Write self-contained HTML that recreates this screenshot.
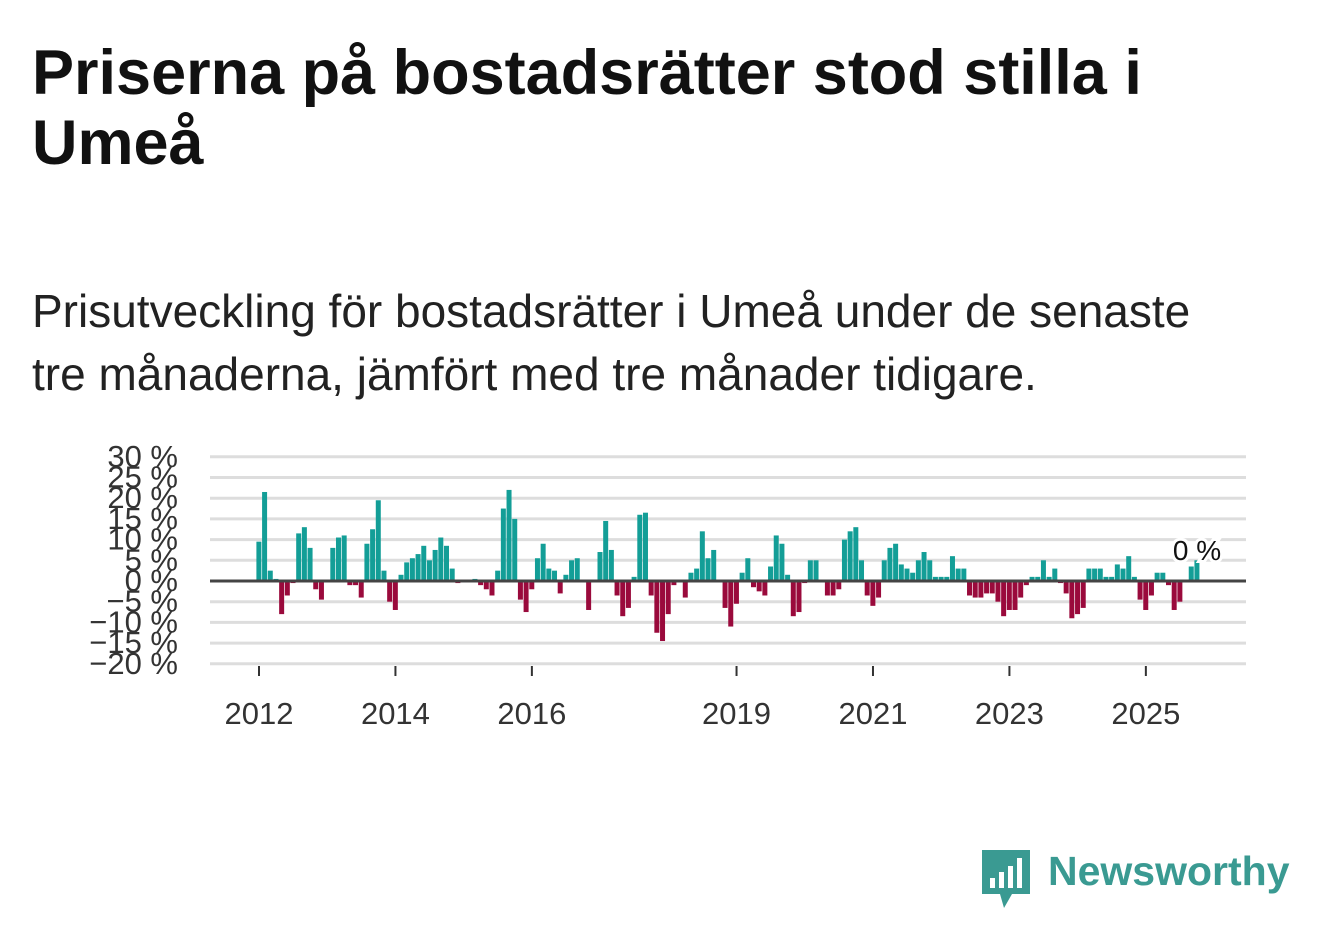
<!DOCTYPE html>
<html><head><meta charset="utf-8"><style>
body{margin:0;width:1322px;height:939px;background:#fff;font-family:"Liberation Sans",sans-serif;overflow:hidden;position:relative}
h1{position:absolute;left:32px;top:38px;margin:0;font-size:63px;line-height:70px;font-weight:bold;color:#111;width:1200px}
p.sub{position:absolute;left:32px;top:280px;margin:0;font-size:46px;line-height:63px;color:#222;width:1285px}
svg{position:absolute;left:0;top:0}
</style></head><body>
<h1>Priserna på bostadsrätter stod stilla i Umeå</h1>
<p class="sub">Prisutveckling för bostadsrätter i Umeå under de senaste<br>tre månaderna, jämfört med tre månader tidigare.</p>
<svg id="chart" width="1322" height="939"></svg>
<div style="position:absolute;left:982px;top:850px;height:60px">
<svg width="48" height="60" style="position:absolute;left:0;top:0"><path d="M0 0H48V44H30L22 58L18 44H0Z" fill="#3a9a92"/><rect x="8" y="28" width="5" height="10" fill="#fff"/><rect x="17" y="22" width="5" height="16" fill="#fff"/><rect x="26" y="16" width="5" height="22" fill="#fff"/><rect x="35" y="8" width="5" height="30" fill="#fff"/></svg>
<span style="position:absolute;left:66px;top:-2px;font-size:41px;font-weight:bold;color:#3a9a92;white-space:nowrap">Newsworthy</span>
</div>
<script>
const values=[9.5,21.5,2.5,0.5,-8,-3.5,-0.5,11.5,13,8,-2,-4.5,
0,8,10.5,11,-1,-1,-4,9,12.5,19.5,2.5,-5,
-7,1.5,4.5,5.5,6.5,8.5,5,7.5,10.5,8.5,3,-0.5,
0,0,0.5,-1,-2,-3.5,2.5,17.5,22,15,-4.5,-7.5,
-2,5.5,9,3,2.5,-3,1.5,5,5.5,0.3,-7,0,
7,14.5,7.5,-3.5,-8.5,-6.5,1,16,16.5,-3.5,-12.5,-14.5,
-8,-1,0,-4,2,3,12,5.5,7.5,0,-6.5,-11,
-5.5,2,5.5,-1.5,-2.5,-3.5,3.5,11,9,1.5,-8.5,-7.5,
-0.5,5,5,0,-3.5,-3.5,-2,10,12,13,5,-3.5,
-6,-4,5,8,9,4,3,2,5,7,5,1,
1,1,6,3,3,-3.5,-4,-4,-3,-3,-5,-8.5,
-7,-7,-4,-1,1,1,5,1,3,-0.5,-3,-9,
-8,-6.5,3,3,3,1,1,4,3,6,1,-4.5,
-7,-3.5,2,2,-1,-7,-5,0,3.5,5];
const yTicks=[30,25,20,15,10,5,0,-5,-10,-15,-20];
const xYears=[2012,2014,2016,2019,2021,2023,2025];
const svg=document.getElementById('chart');const NS='http://www.w3.org/2000/svg';
const y=v=>581-v*4.14;
const x=i=>259+i*5.685;
const xy=yr=>x((yr-2012)*12);
function el(t,a,txt){const e=document.createElementNS(NS,t);for(const k in a)e.setAttribute(k,a[k]);if(txt!==undefined)e.textContent=txt;svg.appendChild(e);return e;}
yTicks.forEach(t=>{
 const g=el('line',{x1:210,x2:1246,y1:y(t),y2:y(t),stroke:'#ddd','stroke-width':3});
 
 
 const l=el('text',{x:178,y:y(t)+10,'text-anchor':'end','font-size':31,fill:'#333','font-family':'Liberation Sans'},(t<0?'\u2212'+(-t):t)+' %');
 
 
});
values.forEach((v,i)=>{
 const r=el('rect',{x:x(i)-2.6,width:5,y:Math.min(y(v),y(0)),height:Math.abs(y(v)-y(0)),fill:v>=0?'#139e97':'#9a0a3c'});
 
 
});
const z=el('line',{x1:210,x2:1246,y1:y(0),y2:y(0),stroke:'#444','stroke-width':3});


xYears.forEach(yr=>{
 const t=el('line',{x1:xy(yr),x2:xy(yr),y1:666,y2:676,stroke:'#333','stroke-width':2});
 
 
 const l=el('text',{x:xy(yr),y:724,'text-anchor':'middle','font-size':31,fill:'#333','font-family':'Liberation Sans'},yr);
 
 
});
const lb=el('text',{x:1197,y:560,'text-anchor':'middle','font-size':28,fill:'#111','font-family':'Liberation Sans',stroke:'#fff','stroke-width':6,'paint-order':'stroke'},'0 %');


</script>
</body></html>
